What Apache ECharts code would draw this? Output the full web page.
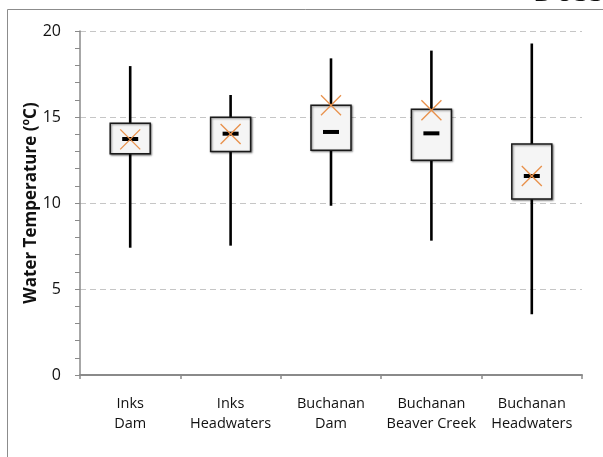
<!DOCTYPE html>
<html>
<head>
<meta charset="utf-8">
<script src="https://cdn.jsdelivr.net/npm/echarts@6/dist/echarts.min.js"></script>
<style>
html,body{margin:0;padding:0;background:#fff;}
#chart{width:603px;height:457px;}
</style>
</head>
<body>
<div id="chart"></div>
<script>
var categories = ['Inks\nDam', 'Inks\nHeadwaters', 'Buchanan\nDam', 'Buchanan\nBeaver Creek', 'Buchanan\nHeadwaters'];
var minValues    = [7.40, 7.52, 9.84, 7.81, 3.53];
var q1Values     = [12.87, 13.00, 13.06, 12.48, 10.23];
var medianValues = [13.72, 14.03, 14.13, 14.05, 11.57];
var q3Values     = [14.63, 14.98, 15.68, 15.45, 13.43];
var maxValues    = [17.96, 16.28, 18.41, 18.86, 19.28];
var meanValues   = [13.70, 14.01, 15.68, 15.39, 11.57];
var yTicks = [0, 5, 10, 15, 20];
var yAxisTitle = 'Water Temperature (ºC)';

var rows = categories.map(function (c, i) {
  return [i, minValues[i], q1Values[i], medianValues[i], q3Values[i], maxValues[i], meanValues[i]];
});

var chart = echarts.init(document.getElementById('chart'), null, {renderer: 'canvas'});

function renderItem(params, api) {
  var x = api.value(0);
  var pMin = api.coord([x, api.value(1)]);
  var pQ1 = api.coord([x, api.value(2)]);
  var pMed = api.coord([x, api.value(3)]);
  var pQ3 = api.coord([x, api.value(4)]);
  var pMax = api.coord([x, api.value(5)]);
  var pMean = api.coord([x, api.value(6)]);
  var cx = pMin[0];
  var bw = 40, mw = 16, mh = 4, xs = 10;
  return {
    type: 'group',
    children: [
      {type: 'line', shape: {x1: cx, y1: pMax[1], x2: cx, y2: pMin[1]},
       style: {stroke: '#000', lineWidth: 2.6}},
      {type: 'rect', shape: {x: cx - bw / 2, y: pQ3[1], width: bw, height: pQ1[1] - pQ3[1]},
       style: {fill: '#f5f5f5', stroke: '#1a1a1a', lineWidth: 1.5,
               shadowBlur: 2, shadowOffsetX: 1, shadowOffsetY: 1, shadowColor: 'rgba(0,0,0,0.45)'}},
      {type: 'rect', shape: {x: cx - mw / 2, y: pMed[1] - mh / 2, width: mw, height: mh},
       style: {fill: '#000'}},
      {type: 'line', shape: {x1: cx - xs, y1: pMean[1] - xs, x2: cx + xs, y2: pMean[1] + xs},
       style: {stroke: '#E8904A', lineWidth: 1.3}},
      {type: 'line', shape: {x1: cx - xs, y1: pMean[1] + xs, x2: cx + xs, y2: pMean[1] - xs},
       style: {stroke: '#E8904A', lineWidth: 1.3}}
    ]
  };
}

chart.setOption({
  animation: false,
  backgroundColor: '#fff',
  grid: {left: 80, right: 21, top: 31, bottom: 82, containLabel: false},
  xAxis: {
    type: 'category',
    data: categories,
    boundaryGap: true,
    axisLine: {lineStyle: {color: '#8a8a8a', width: 2}},
    axisTick: {show: true, inside: false, length: 4, lineStyle: {color: '#8a8a8a', width: 1.5}},
    axisLabel: {color: '#111', fontFamily: 'Open Sans', fontSize: 14.5, lineHeight: 20, margin: 19, interval: 0},
    splitLine: {show: false}
  },
  yAxis: {
    type: 'value',
    min: yTicks[0], max: yTicks[yTicks.length - 1], interval: 5,
    axisLine: {show: true, lineStyle: {color: '#8a8a8a', width: 1.5}},
    axisTick: {show: true, inside: false, length: 5, lineStyle: {color: '#8a8a8a', width: 1}},
    minorTick: {show: true, splitNumber: 5, length: 5, lineStyle: {color: '#8a8a8a', width: 1}},
    axisLabel: {color: '#111', fontFamily: 'Open Sans', fontSize: 16, margin: 19},
    splitLine: {show: true, lineStyle: {color: '#c6c6c6', type: [6, 4], width: 1}}
  },
  series: [{
    type: 'custom',
    renderItem: renderItem,
    data: rows,
    encode: {x: 0, y: [1, 2, 3, 4, 5, 6]},
    z: 5
  }],
  graphic: [
    {type: 'rect', left: 5, top: 7, z: -10, silent: true,
     shape: {width: 700, height: 449},
     style: {fill: 'none', stroke: '#8c8c8c', lineWidth: 1}},
    {type: 'text', x: 31, y: 203, rotation: Math.PI / 2, z: 10,
     style: {text: yAxisTitle, font: 'bold 17px "Open Sans"', fill: '#111',
             align: 'center', verticalAlign: 'middle'}},
    {type: 'text', x: 533, y: 7, z: 10,
     style: {text: 'Dosso', font: 'bold 30px "Open Sans"', fill: '#111',
             align: 'left', verticalAlign: 'bottom'}}
  ]
});
</script>
</body>
</html>
